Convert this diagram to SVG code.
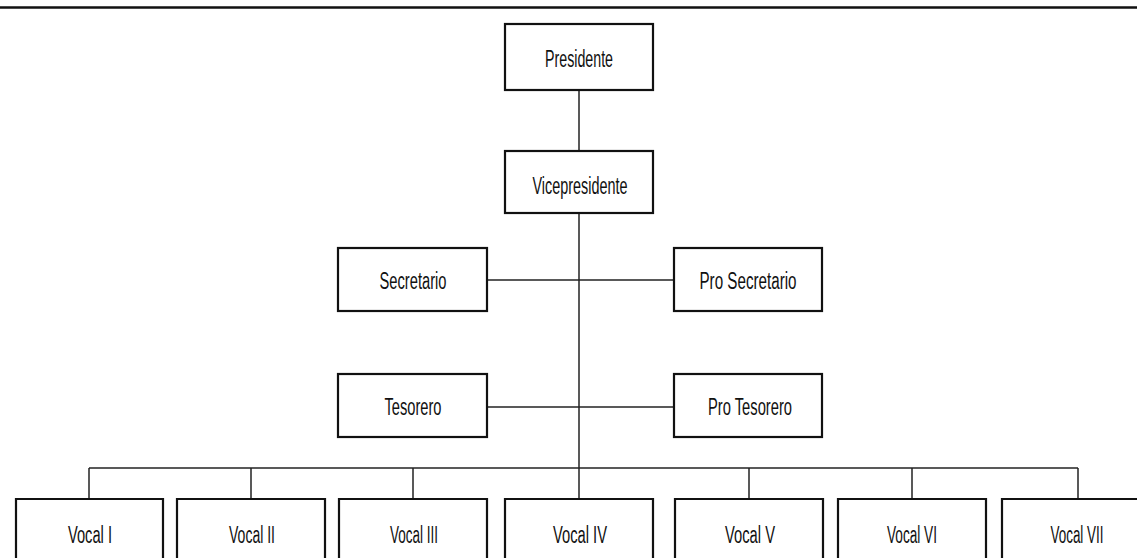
<svg xmlns="http://www.w3.org/2000/svg" width="1137" height="558" viewBox="0 0 1137 558">
<style>
.box{fill:#fff;stroke:#111;stroke-width:2.2}
.ln{stroke:#222;stroke-width:1.5;fill:none}
.t{font-family:"Liberation Sans",Arial,sans-serif;font-size:23px;fill:#111;text-anchor:middle}
</style>
<rect width="1137" height="558" fill="#fff"/>
<line x1="0" y1="7.5" x2="1137" y2="7.5" stroke="#111" stroke-width="2.5"/>
<g id="connectors">
<line class="ln" x1="579" y1="90" x2="579" y2="151"/>
<line class="ln" x1="579" y1="213" x2="579" y2="499"/>
<line class="ln" x1="487" y1="280" x2="674" y2="280"/>
<line class="ln" x1="487" y1="407" x2="674" y2="407"/>
<line class="ln" x1="89" y1="468" x2="1078" y2="468"/>
<line class="ln" x1="89" y1="468" x2="89" y2="499"/>
<line class="ln" x1="251" y1="468" x2="251" y2="499"/>
<line class="ln" x1="413" y1="468" x2="413" y2="499"/>
<line class="ln" x1="749" y1="468" x2="749" y2="499"/>
<line class="ln" x1="912" y1="468" x2="912" y2="499"/>
<line class="ln" x1="1078" y1="468" x2="1078" y2="499"/>
</g>
<g id="presidente"><rect class="box" x="505" y="24" width="148" height="66"/><text class="t" x="579" y="67" textLength="68" lengthAdjust="spacingAndGlyphs">Presidente</text></g>
<g id="vicepresidente"><rect class="box" x="505" y="151" width="148" height="62"/><text class="t" x="580" y="194" textLength="95" lengthAdjust="spacingAndGlyphs">Vicepresidente</text></g>
<g id="secretario"><rect class="box" x="338" y="248" width="149" height="63"/><text class="t" x="413" y="289" textLength="67" lengthAdjust="spacingAndGlyphs">Secretario</text></g>
<g id="prosecretario"><rect class="box" x="674" y="248" width="148" height="63"/><text class="t" x="748" y="289" textLength="97" lengthAdjust="spacingAndGlyphs">Pro Secretario</text></g>
<g id="tesorero"><rect class="box" x="338" y="374" width="149" height="63"/><text class="t" x="413" y="415" textLength="57" lengthAdjust="spacingAndGlyphs">Tesorero</text></g>
<g id="protesorero"><rect class="box" x="674" y="374" width="148" height="63"/><text class="t" x="750" y="415" textLength="84" lengthAdjust="spacingAndGlyphs">Pro Tesorero</text></g>
<g id="vocal1"><path class="box" d="M16,558 V499 H163 V558"/><text class="t" x="90" y="543" textLength="44" lengthAdjust="spacingAndGlyphs">Vocal I</text></g>
<g id="vocal2"><path class="box" d="M177,558 V499 H325 V558"/><text class="t" x="252" y="543" textLength="46" lengthAdjust="spacingAndGlyphs">Vocal II</text></g>
<g id="vocal3"><path class="box" d="M339,558 V499 H487 V558"/><text class="t" x="414" y="543" textLength="48" lengthAdjust="spacingAndGlyphs">Vocal III</text></g>
<g id="vocal4"><path class="box" d="M505,558 V499 H653 V558"/><text class="t" x="580" y="543" textLength="54" lengthAdjust="spacingAndGlyphs">Vocal IV</text></g>
<g id="vocal5"><path class="box" d="M675,558 V499 H823 V558"/><text class="t" x="750" y="543" textLength="50" lengthAdjust="spacingAndGlyphs">Vocal V</text></g>
<g id="vocal6"><path class="box" d="M838,558 V499 H986 V558"/><text class="t" x="912" y="543" textLength="50" lengthAdjust="spacingAndGlyphs">Vocal VI</text></g>
<g id="vocal7"><path class="box" d="M1002,558 V499 H1137"/><text class="t" x="1077" y="543" textLength="53" lengthAdjust="spacingAndGlyphs">Vocal VII</text></g>
</svg>
